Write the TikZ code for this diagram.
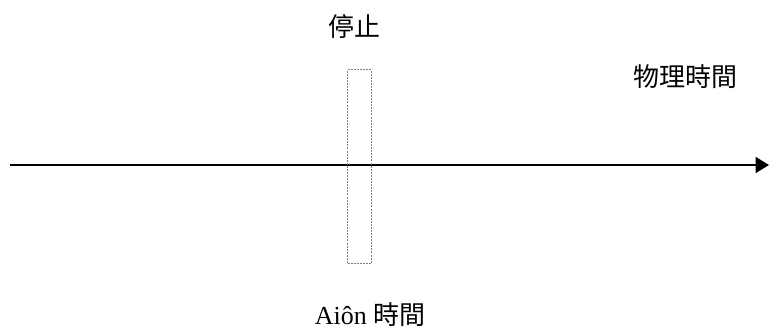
\documentclass[tikz,border=0pt]{standalone}
\usepackage{fontspec}
\setmainfont{Liberation Serif}
\newfontfamily\cjk{Noto Sans CJK TC}
\usetikzlibrary{arrows.meta}
\begin{document}
\begin{tikzpicture}[x=0.75pt,y=-0.75pt,
  lbl/.style={inner sep=0pt,font=\fontsize{19.5}{23}\selectfont},
  axis/.style={line width=1pt,-{Triangle[length=10pt,width=12pt]}},
  box/.style={draw=gray,dash pattern=on 1.5pt off 0.8pt,line width=0.9pt}]
\useasboundingbox (0,0) rectangle (769,329);
\coordinate (s) at (10,165);
\coordinate (e) at (769,165);
\draw[axis] (s) -- (e);
\node[box,minimum width=18pt,minimum height=145pt,inner sep=0pt] (r) at (359.5,166.5) {};
\node[lbl] (stop) at (354,27) {\cjk 停止};
\node[lbl] (phys) at (685,77) {\cjk 物理時間};
\node[lbl] (aion) at (370,315) {Aiôn {\cjk 時間}};
\end{tikzpicture}
\end{document}
